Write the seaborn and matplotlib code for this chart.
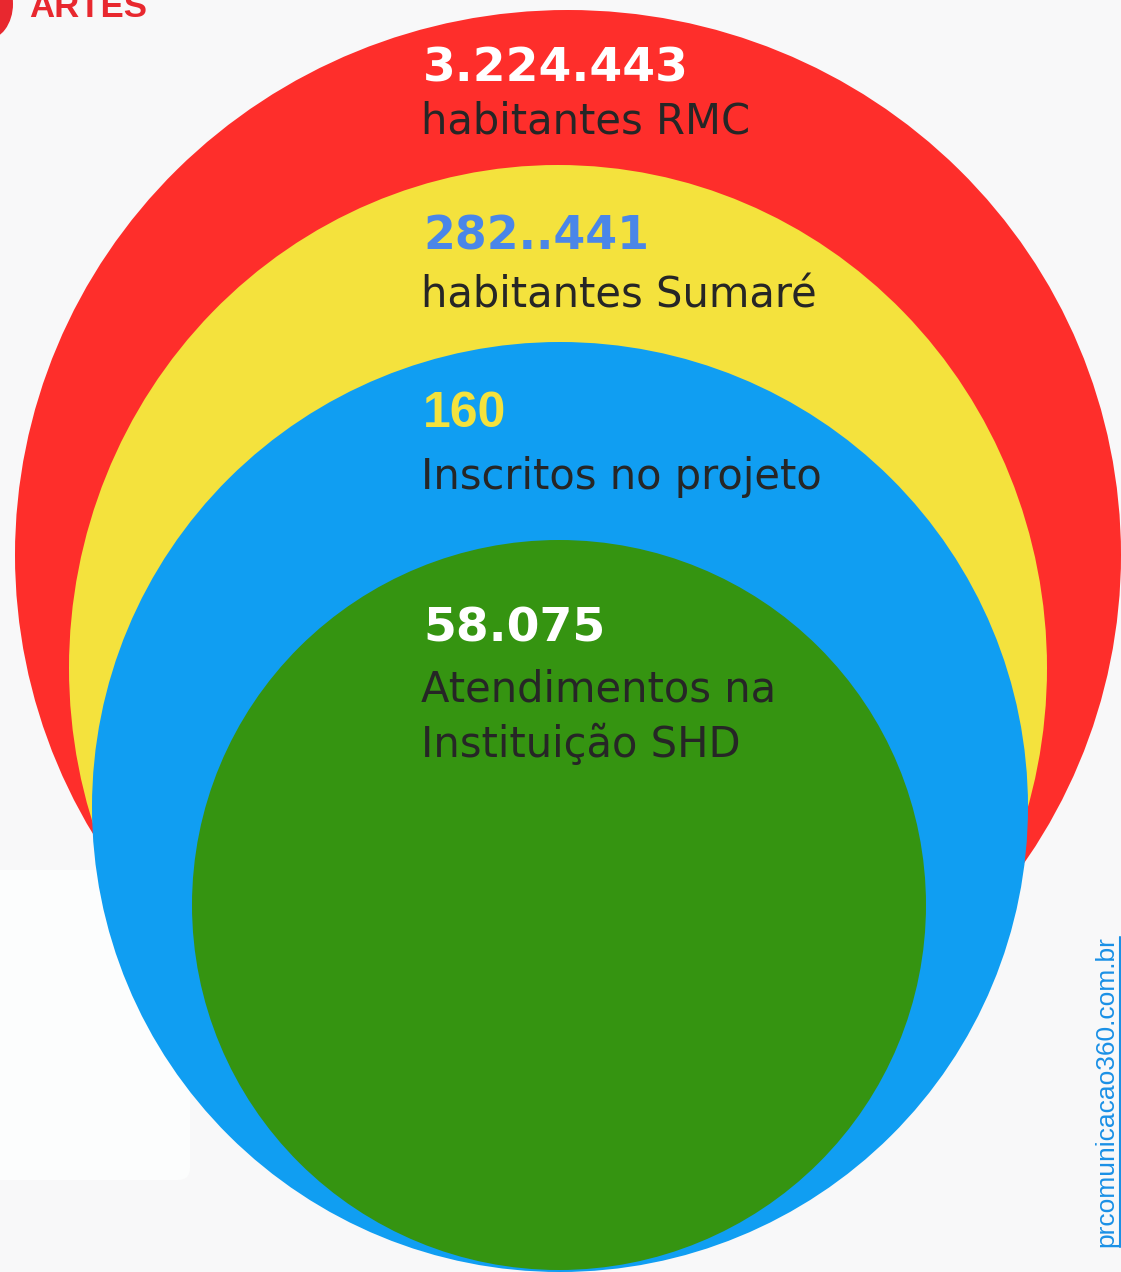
import matplotlib
matplotlib.use("Agg")
import matplotlib.pyplot as plt
from matplotlib.patches import Ellipse, FancyBboxPatch
from matplotlib.lines import Line2D
import seaborn as sns

# figures shown in the nested circles (outer -> inner)
numbers = ["3.224.443", "282..441", "160", "58.075"]
labels = ["habitantes RMC", "habitantes Sumaré", "Inscritos no projeto",
          "Atendimentos na\nInstituição SHD"]
site = "prcomunicacao360.com.br"
logo = "ARTES"

# layout (pixel units, y grows downwards)
W, H = 1121, 1272
circle_xy = [(568, 555), (558, 668), (560, 807), (559, 905)]
circle_wh = [(1106, 1090), (978, 1006), (936, 930), (734, 730)]
num_base = [82, 250, 427, 642]
lab_base = [133, 308, 489, 701]
line_gap = 56

# styles
circle_colors = ["#fe2e2b", "#f4e23d", "#109ef2", "#359411"]
number_colors = ["#ffffff", "#4a86e8", "#f4e23d", "#ffffff"]
number_fonts = ["DejaVu Sans", "DejaVu Sans", "Liberation Sans", "DejaVu Sans"]
number_sizes = [34, 33, 36, 34]
label_color = "#262626"
bg = "#f8f8f9"

sns.set_theme(style="white")
plt.rcParams["font.family"] = ["DejaVu Sans"]

fig = plt.figure(figsize=(W / 100, H / 100), dpi=100, facecolor=bg)
ax = fig.add_axes([0, 0, 1, 1])
ax.set_facecolor(bg)
ax.set_xlim(0, W)
ax.set_ylim(H, 0)
ax.axis("off")

# faint lighter panel in the lower left of the background
ax.add_patch(FancyBboxPatch((-20, 870), 210, 310, boxstyle="round,pad=0,rounding_size=12",
                            facecolor="#fcfdfd", edgecolor="none", zorder=0))

# logo fragment at top left (cut by the top edge, as in the source)
ax.add_patch(Ellipse((-14, 4), 54, 72, facecolor="#e8282f", edgecolor="none", zorder=1))
ax.text(29, 17, logo, color="#e8282f", fontsize=25, fontweight="bold",
        family="Liberation Sans", ha="left", va="baseline", zorder=1)

for i in range(len(numbers)):
    ax.add_patch(Ellipse(circle_xy[i], circle_wh[i][0], circle_wh[i][1],
                         facecolor=circle_colors[i], edgecolor="none", zorder=2 + i))

for i in range(len(numbers)):
    ax.text(423, num_base[i], numbers[i], color=number_colors[i], fontsize=number_sizes[i],
            fontweight="bold", family=number_fonts[i], ha="left", va="baseline", zorder=10)
    for j, line in enumerate(labels[i].split("\n")):
        ax.text(421, lab_base[i] + j * line_gap, line, color=label_color, fontsize=30,
                ha="left", va="baseline", zorder=10)

wm = ax.text(1106, 1092, site, color="#1a90e6", fontsize=19, family="Liberation Sans",
             rotation=90, ha="center", va="center", zorder=10)

# underline for the rotated site link
fig.canvas.draw()
bb = wm.get_window_extent().transformed(ax.transData.inverted())
ux = max(bb.x0, bb.x1) + 2
ax.add_line(Line2D([ux, ux], [bb.y0, bb.y1], color="#1a90e6", lw=1.5, zorder=10))

fig.savefig("out.png", dpi=100, facecolor=bg)
